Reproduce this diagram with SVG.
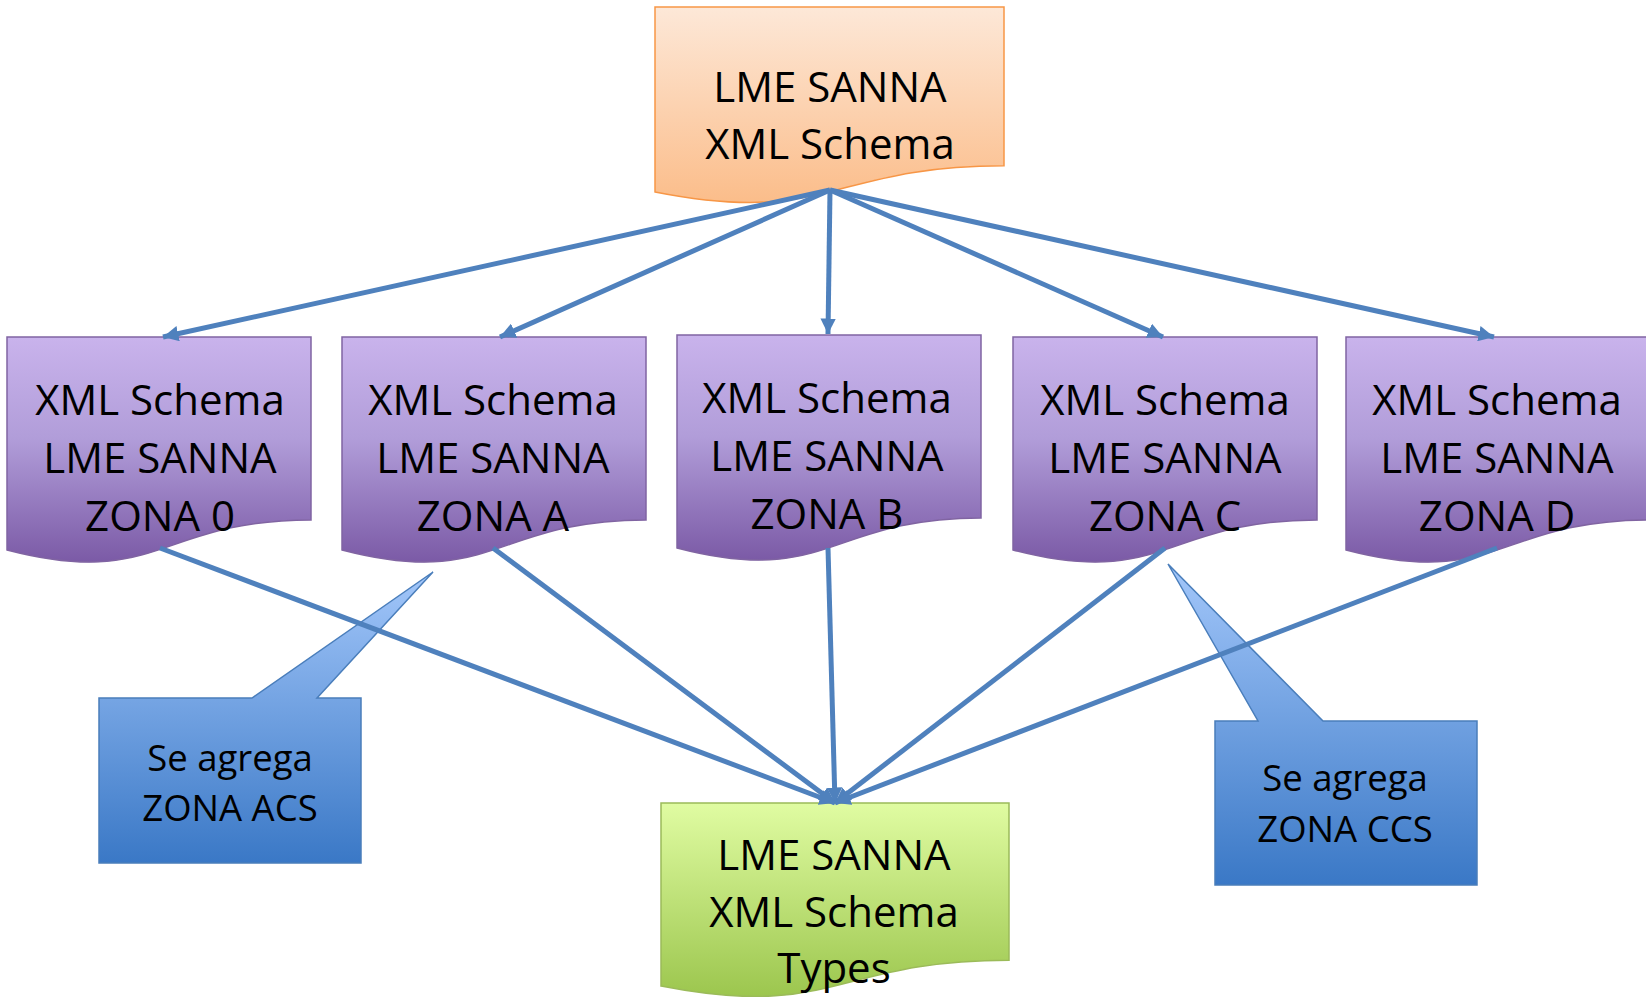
<svg xmlns="http://www.w3.org/2000/svg" width="1646" height="997" viewBox="0 0 1646 997">
<defs>
<linearGradient id="gOrange" x1="0" y1="0" x2="0" y2="1"><stop offset="0" stop-color="#fde8d8"/><stop offset="1" stop-color="#fbbd8a"/></linearGradient>
<linearGradient id="gPurple" x1="0" y1="0" x2="0" y2="1"><stop offset="0" stop-color="#c9b3ec"/><stop offset="0.45" stop-color="#b19dd9"/><stop offset="1" stop-color="#7b5aa6"/></linearGradient>
<linearGradient id="gGreen" x1="0" y1="0" x2="0" y2="1"><stop offset="0" stop-color="#e0fca2"/><stop offset="1" stop-color="#9cc64e"/></linearGradient>
<linearGradient id="gBlue" x1="0" y1="0" x2="0" y2="1"><stop offset="0" stop-color="#a3c7fa"/><stop offset="1" stop-color="#3a78c6"/></linearGradient>
<marker id="arr" viewBox="0 0 10 10" refX="10" refY="5" markerWidth="3.1" markerHeight="3.1" orient="auto"><path d="M0,0 L10,5 L0,10 Z" fill="#4f81bd"/></marker>
</defs>
<style>
.t{font-family:"Open Sans","Noto Sans","Liberation Sans",sans-serif;font-size:42px;fill:#000;text-anchor:middle}
.s{font-family:"Open Sans","Noto Sans","Liberation Sans",sans-serif;font-size:36.5px;fill:#000;text-anchor:middle}
.purple{fill:url(#gPurple);stroke:#8064a2;stroke-width:1.5}
.ca{stroke:#4f81bd;stroke-width:5;fill:none;marker-end:url(#arr)}
</style>

<g id="callout-acs">
<path d="M99,698 L252,698 L433,572 L317,698 L361,698 L361,863 L99,863 Z" fill="url(#gBlue)" stroke="#4a7ebb" stroke-width="1.5"/>
<text class="s" x="230" y="771">Se agrega</text>
<text class="s" x="230" y="821">ZONA ACS</text>
</g>
<g id="callout-ccs">
<path d="M1215,721 L1258,721 L1168,564 L1323,721 L1477,721 L1477,885 L1215,885 Z" fill="url(#gBlue)" stroke="#4a7ebb" stroke-width="1.5"/>
<text class="s" x="1345" y="791">Se agrega</text>
<text class="s" x="1345" y="842">ZONA CCS</text>
</g>

<g id="top">
<path transform="translate(655,7)" d="M0,0 H349 V158.8 C174.5,158.8 174.5,219.3 0,184.9 Z" fill="url(#gOrange)" stroke="#f79646" stroke-width="1.5"/>
<text class="t" x="830" y="102">LME SANNA</text>
<text class="t" x="830" y="159">XML Schema</text>
</g>

<g id="zona0">
<path class="purple" transform="translate(7,337)" d="M0,0 H304 V182.9 C152,182.9 152,252.5 0,213 Z"/>
<text class="t" x="160" y="415">XML Schema</text>
<text class="t" x="160" y="473">LME SANNA</text>
<text class="t" x="160" y="531">ZONA 0</text>
</g>
<g id="zonaA">
<path class="purple" transform="translate(342,337)" d="M0,0 H304 V182.9 C152,182.9 152,252.5 0,213 Z"/>
<text class="t" x="493" y="415">XML Schema</text>
<text class="t" x="493" y="473">LME SANNA</text>
<text class="t" x="493" y="531">ZONA A</text>
</g>
<g id="zonaB">
<path class="purple" transform="translate(677,335)" d="M0,0 H304 V182.9 C152,182.9 152,252.5 0,213 Z"/>
<text class="t" x="827" y="413">XML Schema</text>
<text class="t" x="827" y="471">LME SANNA</text>
<text class="t" x="827" y="529">ZONA B</text>
</g>
<g id="zonaC">
<path class="purple" transform="translate(1013,337)" d="M0,0 H304 V182.9 C152,182.9 152,252.5 0,213 Z"/>
<text class="t" x="1165" y="415">XML Schema</text>
<text class="t" x="1165" y="473">LME SANNA</text>
<text class="t" x="1165" y="531">ZONA C</text>
</g>
<g id="zonaD">
<path class="purple" transform="translate(1346,337)" d="M0,0 H304 V182.9 C152,182.9 152,252.5 0,213 Z"/>
<text class="t" x="1497" y="415">XML Schema</text>
<text class="t" x="1497" y="473">LME SANNA</text>
<text class="t" x="1497" y="531">ZONA D</text>
</g>

<g id="types">
<path transform="translate(661,803)" d="M0,0 H348 V157.2 C174,157.2 174,217.1 0,183.1 Z" fill="url(#gGreen)" stroke="#9bbb59" stroke-width="1.5"/>
<text class="t" x="834" y="870">LME SANNA</text>
<text class="t" x="834" y="927">XML Schema</text>
<text class="t" x="834" y="983">Types</text>
</g>

<g id="connectors">
<line class="ca" x1="830" y1="190" x2="163" y2="337"/>
<line class="ca" x1="830" y1="190" x2="500" y2="337"/>
<line class="ca" x1="830" y1="190" x2="828" y2="334"/>
<line class="ca" x1="830" y1="190" x2="1163" y2="337"/>
<line class="ca" x1="830" y1="190" x2="1494" y2="337"/>
<line class="ca" x1="160" y1="548" x2="835" y2="803"/>
<line class="ca" x1="493" y1="548" x2="835" y2="803"/>
<line class="ca" x1="828" y1="548" x2="835" y2="803"/>
<line class="ca" x1="1165" y1="548" x2="835" y2="803"/>
<line class="ca" x1="1497" y1="548" x2="835" y2="803"/>
</g>
</svg>
